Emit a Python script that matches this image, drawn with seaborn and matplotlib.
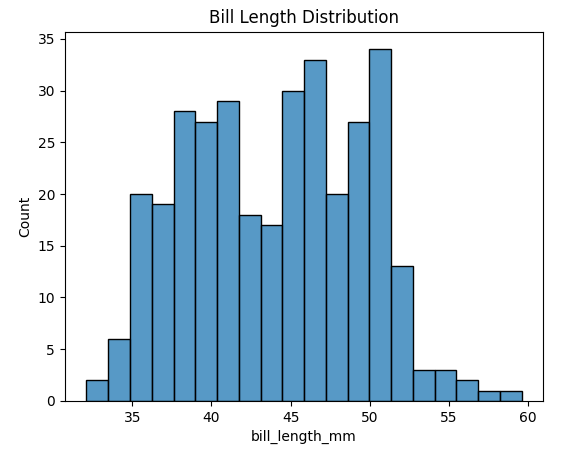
import numpy as np
import pandas as pd
import seaborn as sns
import matplotlib.pyplot as plt

# bin range (20 bins)
bill_min = 32.1
bill_max = 59.6
n_bins = 20
counts = [2, 6, 20, 19, 28, 27, 29, 18, 17, 30, 33, 20, 27, 34, 13, 3, 3, 2, 1, 1]

edges = np.linspace(bill_min, bill_max, n_bins + 1)
centers = (edges[:-1] + edges[1:]) / 2
df = pd.DataFrame({'bill_length_mm': centers, 'Count': counts})

fig, ax = plt.subplots(figsize=(5.63, 4.53), dpi=100)
sns.histplot(data=df, x='bill_length_mm', weights='Count', bins=n_bins,
             binrange=(bill_min, bill_max), ax=ax)
ax.set_ylabel('Count')
ax.set_title('Bill Length Distribution')
fig.subplots_adjust(left=0.115, right=0.965, top=0.93, bottom=0.115)
fig.savefig('out.png')
